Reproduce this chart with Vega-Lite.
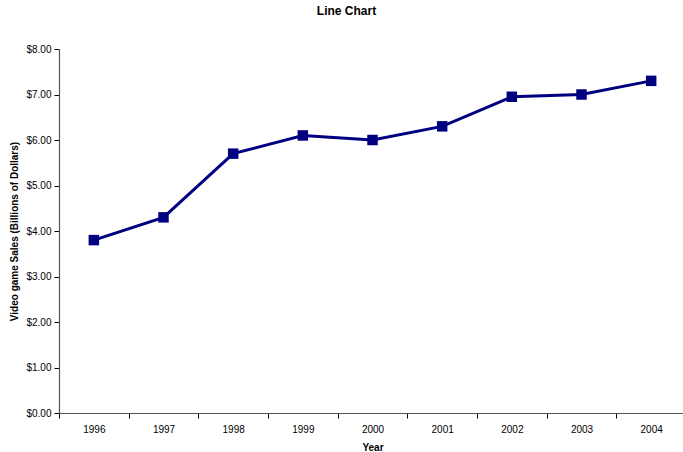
{
  "$schema": "https://vega.github.io/schema/vega-lite/v6.json",
  "autosize": {"type": "none"},
  "padding": {"left": 59, "top": 49, "right": 0, "bottom": 39},
  "width": 627,
  "height": 364,
  "background": "white",
  "title": {
    "text": "Line Chart",
    "font": "Liberation Sans",
    "fontSize": 12,
    "fontWeight": "bold",
    "color": "#000000",
    "anchor": "middle",
    "dx": -26,
    "offset": 26
  },
  "data": {
    "values": [
      {"year": "1996", "sales": 3.8},
      {"year": "1997", "sales": 4.3},
      {"year": "1998", "sales": 5.7},
      {"year": "1999", "sales": 6.1},
      {"year": "2000", "sales": 6.0},
      {"year": "2001", "sales": 6.3},
      {"year": "2002", "sales": 6.95},
      {"year": "2003", "sales": 7.0},
      {"year": "2004", "sales": 7.3}
    ]
  },
  "mark": {
    "type": "line",
    "color": "#000080",
    "strokeWidth": 3,
    "point": {"shape": "square", "size": 110, "filled": true, "color": "#000080", "opacity": 1}
  },
  "encoding": {
    "x": {
      "field": "year",
      "type": "ordinal",
      "bandPosition": 0.5,
      "scale": {"type": "band", "paddingInner": 0, "paddingOuter": 0},
      "axis": {
        "title": "Year",
        "titleFont": "Liberation Sans",
        "titleFontSize": 10,
        "titleFontWeight": "bold",
        "titleColor": "#000000",
        "titlePadding": 8,
        "labelAngle": 0,
        "labelFont": "Liberation Sans",
        "labelFontSize": 10,
        "labelColor": "#000000",
        "labelPadding": 6,
        "tickBand": "extent",
        "tickSize": 5,
        "tickColor": "#000000",
        "domainColor": "#555555",
        "domainWidth": 1.2,
        "grid": false
      }
    },
    "y": {
      "field": "sales",
      "type": "quantitative",
      "scale": {"domain": [0, 8], "nice": false, "zero": true},
      "axis": {
        "title": "Video game Sales (Billions of Dollars)",
        "titleFont": "Liberation Sans",
        "titleFontSize": 10,
        "titleFontWeight": "bold",
        "titleColor": "#000000",
        "titlePadding": 6,
        "values": [0, 1, 2, 3, 4, 5, 6, 7, 8],
        "format": "$.2f",
        "labelFont": "Liberation Sans",
        "labelFontSize": 10,
        "labelColor": "#000000",
        "labelPadding": 3,
        "tickSize": 5,
        "tickColor": "#000000",
        "domainColor": "#555555",
        "domainWidth": 1.2,
        "grid": false
      }
    }
  },
  "config": {"view": {"stroke": null}}
}
